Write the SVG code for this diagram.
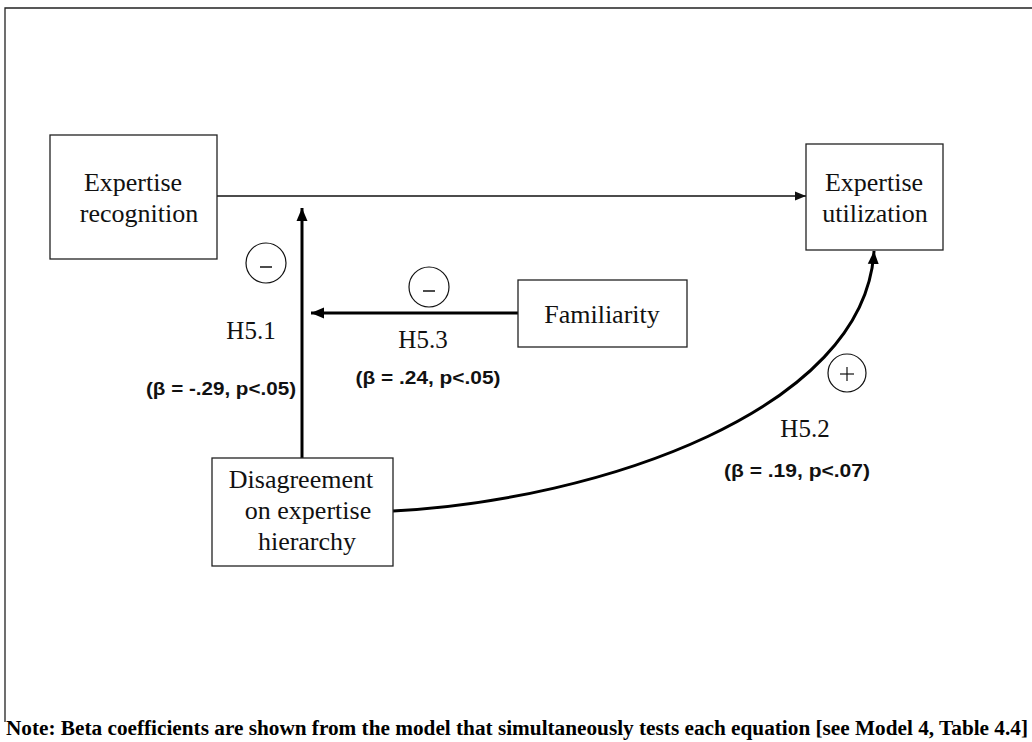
<svg xmlns="http://www.w3.org/2000/svg" width="1032" height="742" viewBox="0 0 1032 742">
<style>
.box{fill:#fff;stroke:#222;stroke-width:1.3}
.lbl{font-family:"Liberation Serif","Times New Roman",serif;font-size:26px;fill:#111;text-anchor:middle}
.h{font-family:"Liberation Serif","Times New Roman",serif;font-size:25px;fill:#111;text-anchor:middle}
.b{font-family:"Liberation Sans",Arial,sans-serif;font-size:18px;font-weight:bold;fill:#111;text-anchor:middle}
.sign{fill:#fff;stroke:#111;stroke-width:1.2}
.thin{stroke:#111;stroke-width:1.3;fill:none}
.thick{stroke:#000;stroke-width:3;fill:none}
</style>
<defs>
<marker id="ah" markerUnits="userSpaceOnUse" markerWidth="12" markerHeight="10" refX="11" refY="5" orient="auto"><path d="M0,0.5 L11,5 L0,9.5 z" fill="#111"/></marker>
<marker id="ahT" markerUnits="userSpaceOnUse" markerWidth="14" markerHeight="12" refX="13" refY="6" orient="auto"><path d="M0,0.5 L13,6 L0,11.5 z" fill="#000"/></marker>
</defs>
<rect width="1032" height="742" fill="#fff"/>
<path d="M5,722 L5,8 L1032,8" fill="none" stroke="#222" stroke-width="1.3"/>
<g id="connectors">
<line class="thin" x1="217" y1="196" x2="806" y2="196" marker-end="url(#ah)"/>
<line class="thick" x1="302" y1="458" x2="302" y2="208" marker-end="url(#ahT)"/>
<line class="thick" x1="518" y1="313" x2="311" y2="313" marker-end="url(#ahT)"/>
<path class="thick" d="M393,511 C600,500 865,410 874,251" marker-end="url(#ahT)"/>
</g>
<g id="node-recognition">
<rect class="box" x="50" y="135" width="167" height="124"/>
<text class="lbl" x="133" y="191">Expertise</text>
<text class="lbl" x="139" y="222">recognition</text>
</g>
<g id="node-utilization">
<rect class="box" x="806" y="144" width="137" height="106"/>
<text class="lbl" x="874" y="191">Expertise</text>
<text class="lbl" x="875" y="222">utilization</text>
</g>
<g id="node-familiarity">
<rect class="box" x="518" y="280" width="169" height="67"/>
<text class="lbl" x="602" y="323">Familiarity</text>
</g>
<g id="node-disagreement">
<rect class="box" x="212" y="458" width="181" height="108"/>
<text class="lbl" x="301" y="488">Disagreement</text>
<text class="lbl" x="308" y="519">on expertise</text>
<text class="lbl" x="307" y="550">hierarchy</text>
</g>
<g id="labels">
<circle class="sign" cx="266" cy="263" r="20"/>
<line x1="260" y1="267" x2="272" y2="267" stroke="#111" stroke-width="1.5"/>
<circle class="sign" cx="429" cy="287" r="20"/>
<line x1="423" y1="291" x2="435" y2="291" stroke="#111" stroke-width="1.5"/>
<circle class="sign" cx="847" cy="373" r="19"/>
<line x1="840" y1="374" x2="854" y2="374" stroke="#111" stroke-width="1.2"/>
<line x1="847" y1="367" x2="847" y2="381" stroke="#111" stroke-width="1.2"/>
<text class="h" x="251" y="339">H5.1</text>
<text class="b" x="221" y="395" textLength="150" lengthAdjust="spacingAndGlyphs">(β = -.29, p&lt;.05)</text>
<text class="h" x="423" y="348">H5.3</text>
<text class="b" x="428" y="384" textLength="145" lengthAdjust="spacingAndGlyphs">(β = .24, p&lt;.05)</text>
<text class="h" x="805" y="437">H5.2</text>
<text class="b" x="797" y="477" textLength="146" lengthAdjust="spacingAndGlyphs">(β = .19, p&lt;.07)</text>
</g>
<text x="6" y="735" font-family="'Liberation Serif','Times New Roman',serif" font-size="20" font-weight="bold" fill="#000" textLength="1022" lengthAdjust="spacingAndGlyphs">Note: Beta coefficients are shown from the model that simultaneously tests each equation [see Model 4, Table 4.4]</text>
</svg>
